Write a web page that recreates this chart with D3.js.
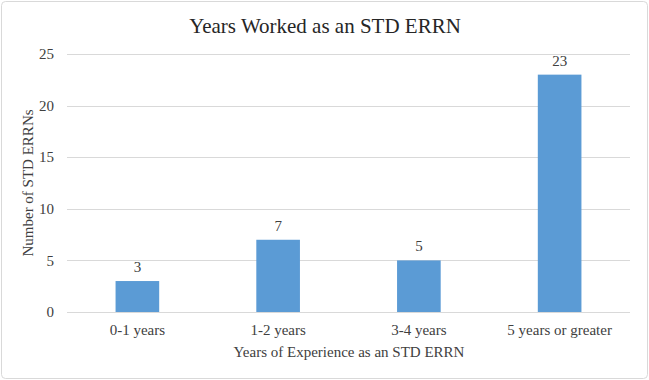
<!DOCTYPE html>
<html lang="en">
<head>
  <meta charset="UTF-8">
  <title>Years Worked as an STD ERRN</title>
  <script src="https://d3js.org/d3.v7.min.js"></script>
  <style>
    body { margin: 0; background: #fff; }
  </style>
</head>
<body>
  <svg width="649" height="380"></svg>
  <script>
    // chart data
    const categories = ["0-1 years", "1-2 years", "3-4 years", "5 years or greater"];
    const counts = [3, 7, 5, 23];
    const yTicks = [0, 5, 10, 15, 20, 25];

    const width = 649, height = 380;
    const margin = { top: 54, right: 19, bottom: 68, left: 67 };
    const serif = "'Liberation Serif', 'DejaVu Serif', 'Times New Roman', serif";

    const svg = d3.select("svg")
      .attr("font-family", serif);

    // outer border
    svg.append("rect")
      .attr("x", 1.5).attr("y", 1.5)
      .attr("width", width - 3).attr("height", height - 3)
      .attr("rx", 4)
      .attr("fill", "#fff")
      .attr("stroke", "#d9d9d9");

    const x = d3.scaleBand()
      .domain(categories)
      .range([margin.left, width - margin.right])
      .paddingInner(0.69)
      .paddingOuter(0.345);

    const y = d3.scaleLinear()
      .domain([0, 25])
      .range([height - margin.bottom, margin.top]);

    // gridlines
    svg.append("g")
      .selectAll("line")
      .data(yTicks)
      .join("line")
      .attr("x1", margin.left)
      .attr("x2", width - margin.right)
      .attr("y1", d => Math.round(y(d)) + 0.5)
      .attr("y2", d => Math.round(y(d)) + 0.5)
      .attr("stroke", "#d9d9d9");

    const addText = (sel) => sel
      .attr("font-family", serif)
      .attr("font-size", 15)
      .attr("fill", "#404040");

    // y tick labels
    svg.append("g")
      .selectAll("text")
      .data(yTicks)
      .join("text")
      .call(addText)
      .attr("x", 54)
      .attr("y", d => y(d))
      .attr("dy", "0.35em")
      .attr("text-anchor", "end")
      .text(d => d);

    // bars
    svg.append("g")
      .selectAll("rect")
      .data(counts)
      .join("rect")
      .attr("x", (d, i) => x(categories[i]))
      .attr("y", d => y(d))
      .attr("width", x.bandwidth())
      .attr("height", d => y(0) - y(d))
      .attr("fill", "#5b9bd5");

    // value labels
    svg.append("g")
      .selectAll("text")
      .data(counts)
      .join("text")
      .call(addText)
      .attr("x", (d, i) => x(categories[i]) + x.bandwidth() / 2)
      .attr("y", d => y(d) - 9)
      .attr("text-anchor", "middle")
      .text(d => d);

    // x tick labels
    svg.append("g")
      .selectAll("text")
      .data(categories)
      .join("text")
      .call(addText)
      .attr("x", d => x(d) + x.bandwidth() / 2)
      .attr("y", 335)
      .attr("text-anchor", "middle")
      .text(d => d);

    // axis titles
    svg.append("text")
      .call(addText)
      .attr("x", 349)
      .attr("y", 357)
      .attr("text-anchor", "middle")
      .text("Years of Experience as an STD ERRN");

    svg.append("text")
      .call(addText)
      .attr("transform", "translate(33,183) rotate(-90)")
      .attr("text-anchor", "middle")
      .text("Number of STD ERRNs");

    // title
    svg.append("text")
      .call(addText)
      .attr("x", 325)
      .attr("y", 33)
      .attr("text-anchor", "middle")
      .attr("font-size", 21)
      .attr("fill", "#262626")
      .text("Years Worked as an STD ERRN");
  </script>
</body>
</html>
